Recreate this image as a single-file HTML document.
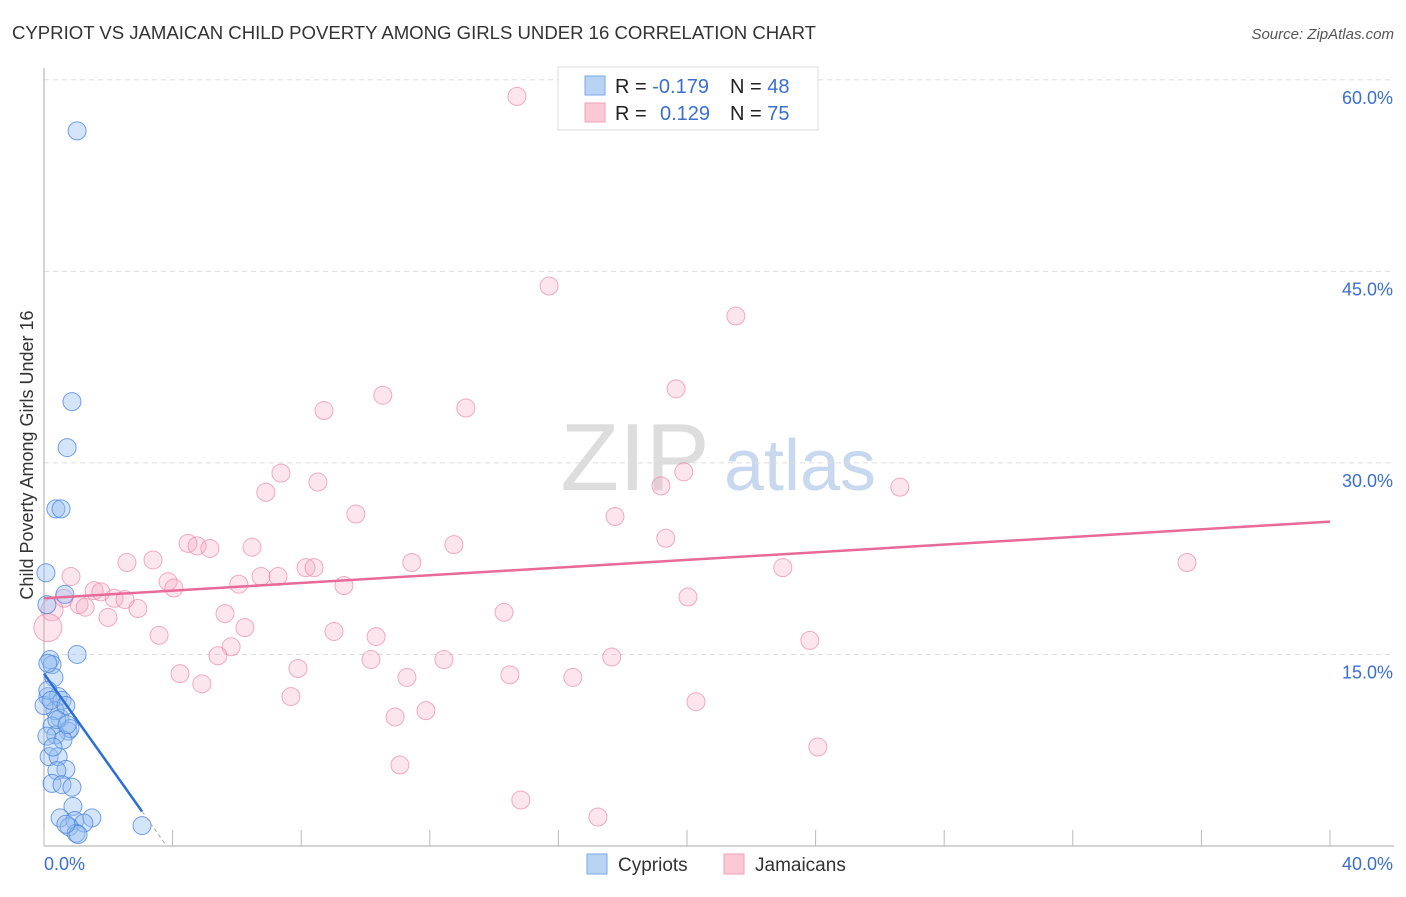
<!DOCTYPE html>
<html><head><meta charset="utf-8"><style>
body{margin:0;background:#fff;font-family:"Liberation Sans",sans-serif}
svg text{font-family:"Liberation Sans",sans-serif}
</style></head><body>
<svg width="1406" height="892" id="chart">
<text x="12" y="39" font-size="18.6" fill="#333" textLength="804">CYPRIOT VS JAMAICAN CHILD POVERTY AMONG GIRLS UNDER 16 CORRELATION CHART</text>
<text x="1394" y="39" font-size="15" fill="#555" text-anchor="end" font-style="italic">Source: ZipAtlas.com</text>
<text x="33" y="455" font-size="18" fill="#333" text-anchor="middle" transform="rotate(-90 33 455)">Child Poverty Among Girls Under 16</text>
<g>
<text x="635" y="490" font-size="96" fill="#ddd" text-anchor="middle" font-family="Liberation Serif">ZIP</text>
<text x="800" y="490" font-size="72" fill="#c8d8ee" text-anchor="middle">atlas</text>
</g>
<g id="grid"></g><g id="axes"></g><g id="pink"></g><g id="blue"></g><g id="trends"></g>
<g>
<rect x="558" y="67" width="260" height="63" fill="#fff" stroke="#ddd"/>
<rect x="585" y="76" width="20" height="19" fill="#b9d3f5" stroke="#7aa7e6"/>
<rect x="585" y="103" width="20" height="19" fill="#fbc8d6" stroke="#f0a0b8"/>
<text x="615" y="93" font-size="20" fill="#222">R = <tspan fill="#3a6fd0">-0.179</tspan></text>
<text x="730" y="93" font-size="20" fill="#222">N = <tspan fill="#3a6fd0">48</tspan></text>
<text x="615" y="120" font-size="20" fill="#222">R = <tspan fill="#3a6fd0" x="660">0.129</tspan></text>
<text x="730" y="120" font-size="20" fill="#222">N = <tspan fill="#3a6fd0">75</tspan></text>
</g>
<g>
<rect x="587" y="854" width="20" height="20" fill="#b9d3f5" stroke="#7aa7e6"/>
<text x="618" y="871" font-size="19" fill="#333">Cypriots</text>
<rect x="724" y="854" width="20" height="20" fill="#fbc8d6" stroke="#f0a0b8"/>
<text x="755" y="871" font-size="19" fill="#333">Jamaicans</text>
</g>
</svg>
<script>
const yTicks=[15,30,45,60];
const yTickLabels=["15.0%","30.0%","45.0%","60.0%"];
const xTicks=[0,4,8,12,16,20,24,28,32,36,40];
const xTickLabels=["0.0%","40.0%"];
const pinkX=[14.71,15.71,21.52,19.66,10.54,8.71,13.12,7.37,19.9,19.19,8.52,6.9,26.62,9.7,17.76,4.48,4.76,5.16,6.47,19.34,12.75,3.39,2.58,11.44,22.98,35.55,8.15,8.4,6.75,7.28,0.84,3.86,6.06,9.33,4.04,1.56,1.77,2.18,2.52,0.62,1.09,2.92,1.28,5.63,1.99,14.31,20.03,6.25,9.02,3.58,10.33,23.82,5.82,5.41,17.66,7.9,12.44,10.17,4.23,11.29,14.49,16.45,4.91,7.68,20.28,11.88,10.92,24.07,11.07,14.83,17.23,0.25,0.12];
const pinkY=[58.7,43.85,41.5,35.8,35.3,34.1,34.3,29.2,29.3,28.2,28.5,27.7,28.1,26.0,25.8,23.7,23.5,23.3,23.4,24.1,23.6,22.4,22.2,22.2,21.8,22.2,21.8,21.8,21.1,21.1,21.1,20.7,20.5,20.4,20.2,20.0,19.9,19.4,19.3,19.4,18.9,18.6,18.7,18.2,17.9,18.3,19.5,17.1,16.8,16.5,16.4,16.1,15.6,14.9,14.8,13.9,14.6,14.6,13.5,13.2,13.4,13.2,12.7,11.7,11.3,10.6,10.1,7.75,6.34,3.6,2.27,18.5,17.1];
const blueX=[1.03,0.87,0.72,0.37,0.53,0.06,0.65,0.09,1.03,0.19,0.25,0.31,0.12,0.44,0.56,0.5,0.34,0.25,0.75,0.81,0.37,0.16,0.44,0.68,0.4,0.25,0.56,0.87,0.9,0.5,0.96,1.49,1.24,0.78,1.0,1.06,3.05,0.12,0,0.09,0.59,0.68,0.12,0.22,0.68,0.4,0.72,0.28];
const blueY=[56.0,34.8,31.2,26.4,26.4,21.4,19.7,18.9,15.0,14.6,14.2,13.2,11.7,11.7,11.4,10.0,10.6,9.4,9.0,9.2,8.7,7.0,7.0,6.0,5.9,4.9,4.8,4.6,3.1,2.2,2.0,2.2,1.8,1.5,1.0,0.9,1.6,14.3,11.0,8.6,8.3,1.7,12.2,11.4,11.0,9.9,9.5,7.75];
const pinkTrend=[19.4,25.4];
const blueTrend=[13.5,-3.54];
const NS="http://www.w3.org/2000/svg";
const X=v=>44+v/40*1286, Y=v=>846-v*12.77;
function mk(tag,parent,attrs){const e=document.createElementNS(NS,tag);for(const k in attrs)e.setAttribute(k,attrs[k]);document.getElementById(parent).appendChild(e);return e;}
yTicks.forEach((t,i)=>{
 const l=mk('line','grid',{x1:44,x2:1394,y1:Y(t),y2:Y(t),stroke:'#ddd','stroke-dasharray':'5,4'});
 
 
 const tx=mk('text','grid',{x:1393,y:Y(t)+24,'font-size':18,fill:'#3a6fd0','text-anchor':'end'});
 tx.textContent=yTickLabels[i];
 
 
});
const ya=mk('line','axes',{x1:44,x2:44,y1:68,y2:846,stroke:'#aaa'});


const xa=mk('line','axes',{x1:44,x2:1394,y1:846,y2:846,stroke:'#aaa'});


xTicks.forEach(t=>{
 const l=mk('line','axes',{x1:X(t),x2:X(t),y1:830,y2:846,stroke:'#bbb'});
 
 
});
[[0,'start',44],[40,'end',1393]].forEach((a,i)=>{
 const tx=mk('text','axes',{x:a[2],y:870,'font-size':18,fill:'#3a6fd0','text-anchor':a[1]});
 tx.textContent=xTickLabels[i];
 
 
});
pinkX.forEach((x,i)=>{
 const r=i==pinkX.length-1?14:(i==pinkX.length-2?11:9);
 const c=mk('circle','pink',{cx:X(x),cy:Y(pinkY[i]),r:r,fill:'rgba(248,170,195,0.3)',stroke:'rgba(235,130,165,0.65)','stroke-width':1});
 
 
});
blueX.forEach((x,i)=>{
 const c=mk('circle','blue',{cx:X(x),cy:Y(blueY[i]),r:9,fill:'rgba(150,190,240,0.4)',stroke:'rgba(70,130,220,0.75)','stroke-width':1});
 
 
});
const pt=mk('line','trends',{x1:X(0),y1:Y(pinkTrend[0]),x2:X(40),y2:Y(pinkTrend[1]),stroke:'#e86a98','stroke-width':2.5});


const bEnd=3.05, bZero=-blueTrend[0]/blueTrend[1];
const bt=mk('line','trends',{x1:X(0),y1:Y(blueTrend[0]),x2:X(bEnd),y2:Y(blueTrend[0]+blueTrend[1]*bEnd),stroke:'#2a6fd6','stroke-width':2.5});


const bd=mk('line','trends',{x1:X(bEnd),y1:Y(blueTrend[0]+blueTrend[1]*bEnd),x2:X(bZero),y2:Y(0),stroke:'#aaa','stroke-width':1,'stroke-dasharray':'4,3'});


</script>
</body></html>
